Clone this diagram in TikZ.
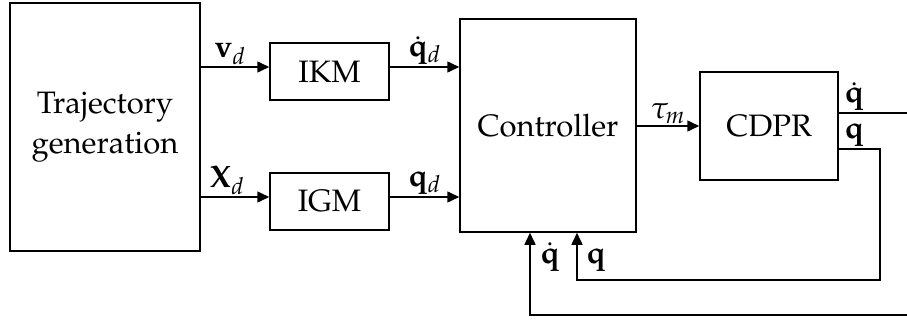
\documentclass[tikz,border=0pt]{standalone}
\usepackage[T1]{fontenc}
\usepackage{mathpazo}
\usetikzlibrary{arrows.meta}
\begin{document}
\begin{tikzpicture}[x=1pt,y=-1pt,
  blk/.style={draw,line width=1.5pt,inner sep=0pt,align=center},
  arr/.style={line width=1.5pt,-{Triangle[length=12pt,width=11pt]}},
  ln/.style={line width=1.5pt},
  lbl/.style={inner sep=2pt},
  font=\fontsize{31}{40}\selectfont]
\useasboundingbox (0,0) rectangle (907,324);
% blocks
\node[blk,minimum width=190pt,minimum height=248pt] (traj) at (105,127) {Trajectory\\generation};
\node[blk,minimum width=119pt,minimum height=57pt] (ikm) at (329.5,71.5) {IKM};
\node[blk,minimum width=119pt,minimum height=57pt] (igm) at (329.5,201.5) {IGM};
\node[blk,minimum width=176pt,minimum height=213pt] (ctrl) at (548,125.5) {Controller};
\node[blk,minimum width=138pt,minimum height=108pt] (cdpr) at (769,126) {CDPR};
% row coordinates
\coordinate (r1) at (0,67);
\coordinate (r2) at (0,197);
\coordinate (qdout) at (907,113);
\coordinate (qcorner1) at (880,149);
\coordinate (qcorner2) at (880,280);
\coordinate (qcorner3) at (577,280);
\coordinate (qdin) at (907,315);
\coordinate (qdcorner) at (530,315);
% forward arrows
\draw[arr] (traj.east |- r1) -- node[above,lbl,xshift=-5pt]{$\mathbf{v}_d$} (ikm.west |- r1);
\draw[arr] (traj.east |- r2) -- node[above,lbl,xshift=-8pt]{$\mathbf{X}_d$} (igm.west |- r2);
\draw[arr] (ikm.east |- r1) -- node[above,lbl]{$\dot{\mathbf{q}}_d$} (ctrl.west |- r1);
\draw[arr] (igm.east |- r2) -- node[above,lbl]{$\mathbf{q}_d$} (ctrl.west |- r2);
\draw[arr] (ctrl.east |- cdpr) -- node[above,lbl]{$\tau_m$} (cdpr.west);
% outputs
\draw[ln] (cdpr.east |- qdout) -- node[pos=0,anchor=south west,lbl,xshift=3pt]{$\dot{\mathbf{q}}$} (qdout);
\draw[arr] (cdpr.east |- qcorner1) -- node[pos=0,anchor=south west,lbl,xshift=3pt]{$\mathbf{q}$} (qcorner1) -- (qcorner2) -- (qcorner3) -- (qcorner3 |- ctrl.south);
\draw[arr] (qdin) -- (qdcorner) -- (qdcorner |- ctrl.south);
% feedback labels
\node[anchor=base west,inner sep=0pt] (lqd) at (540,263) {$\dot{\mathbf{q}}$};
\node[anchor=base west,inner sep=0pt] (lq) at (586,263) {$\mathbf{q}$};
\end{tikzpicture}
\end{document}
